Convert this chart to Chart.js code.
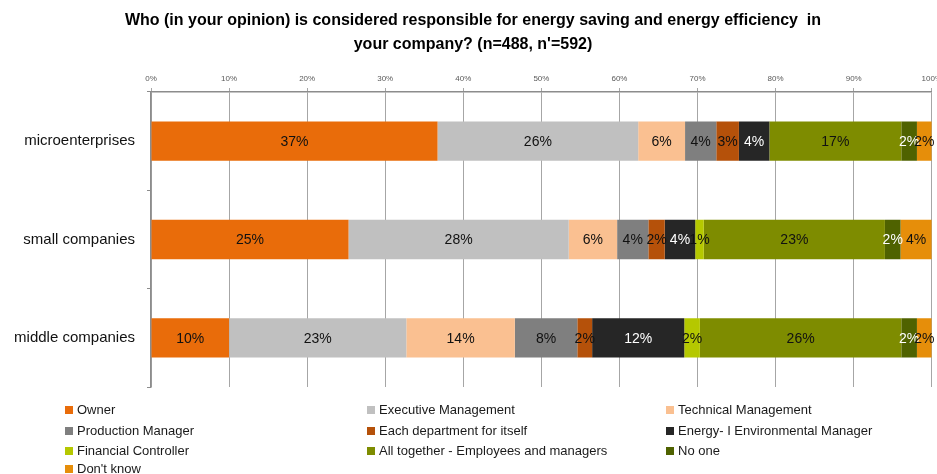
<!DOCTYPE html>
<html>
<head>
<meta charset="utf-8">
<script src="https://cdn.jsdelivr.net/npm/chart.js@4"></script>
<style>
  html, body { margin: 0; padding: 0; background: #fff; overflow: hidden; }
  #wrap { position: relative; width: 937px; height: 474px; overflow: hidden; }
  #chart { position: absolute; left: 0; top: 0; }
  #legend { position: absolute; left: 0; top: 400px; width: 937px; font-family: "Liberation Sans", sans-serif; font-size: 13px; color: #1a1a1a; }
  .item { position: absolute; white-space: nowrap; line-height: 16px; }
  .box { display: inline-block; width: 8px; height: 8px; margin-right: 4px; vertical-align: 0px; }
</style>
</head>
<body>
<div id="wrap">
  <canvas id="chart" width="946" height="474"></canvas>
  <div id="legend"></div>
</div>
<script>
const categories = ["microenterprises", "small companies", "middle companies"];
const xTicks = ["0%", "10%", "20%", "30%", "40%", "50%", "60%", "70%", "80%", "90%", "100%"];

const owner = [36.7, 25.3, 10.0];
const executive = [25.7, 28.2, 22.7];
const technical = [6.0, 6.2, 13.9];
const production = [4.0, 4.0, 8.0];
const eachDept = [2.9, 2.1, 1.9];
const energyManager = [3.9, 3.9, 11.8];
const financial = [0, 1.1, 2.0];
const allTogether = [16.9, 23.2, 25.8];
const noOne = [2.0, 2.0, 2.0];
const dontKnow = [1.9, 4.0, 1.9];

const series = [
  { label: "Owner", data: owner, color: "#E96C0A", text: "#111" },
  { label: "Executive Management", data: executive, color: "#C0C0C0", text: "#111" },
  { label: "Technical Management", data: technical, color: "#FAC091", text: "#111" },
  { label: "Production Manager", data: production, color: "#7F7F7F", text: "#111" },
  { label: "Each department for itself", data: eachDept, color: "#B5510A", text: "#111" },
  { label: "Energy- I Environmental Manager", data: energyManager, color: "#262626", text: "#fff" },
  { label: "Financial Controller", data: financial, color: "#B5C800", text: "#111" },
  { label: "All together - Employees and managers", data: allTogether, color: "#7E8C00", text: "#111" },
  { label: "No one", data: noOne, color: "#4F6200", text: "#fff" },
  { label: "Don't know", data: dontKnow, color: "#E68E0A", text: "#111" }
];

// percentage labels in the middle of each segment
const segmentLabels = {
  id: "segmentLabels",
  afterDatasetsDraw(chart) {
    const ctx = chart.ctx;
    ctx.save();
    ctx.font = "14px 'Liberation Sans', sans-serif";
    ctx.textAlign = "center";
    ctx.textBaseline = "middle";
    chart.data.datasets.forEach((ds, i) => {
      chart.getDatasetMeta(i).data.forEach((bar, j) => {
        const v = ds.data[j];
        if (!v) return;
        ctx.fillStyle = series[i].text;
        ctx.fillText(Math.round(v) + "%", (bar.x + bar.base) / 2, bar.y + 1);
      });
    });
    ctx.restore();
  }
};

new Chart(document.getElementById("chart"), {
  type: "bar",
  data: {
    labels: categories,
    datasets: series.map(s => ({
      label: s.label,
      data: s.data,
      backgroundColor: s.color,
      borderWidth: 0,
      categoryPercentage: 1,
      barPercentage: 0.4
    }))
  },
  options: {
    indexAxis: "y",
    responsive: false,
    animation: false,
    layout: { padding: { bottom: 87 } },
    plugins: {
      legend: { display: false },
      tooltip: { enabled: false },
      title: {
        display: true,
        text: ["Who (in your opinion) is considered responsible for energy saving and energy efficiency  in", "your company? (n=488, n'=592)"],
        color: "#000",
        font: { family: "'Liberation Sans', sans-serif", size: 16, weight: "bold", lineHeight: "24px" },
        padding: { top: 9, bottom: 0 }
      }
    },
    scales: {
      x: {
        position: "top",
        stacked: true,
        min: 0,
        max: 100,
        afterFit: s => { s.height = 35; },
        ticks: {
          stepSize: 10,
          padding: 4,
          color: "#595959",
          font: { family: "'Liberation Sans', sans-serif", size: 8 },
          callback: (v, i) => xTicks[i]
        },
        grid: { color: "#a6a6a6", lineWidth: 1, tickLength: 4 },
        border: { color: "#8c8c8c", width: 1.5 }
      },
      y: {
        stacked: true,
        afterFit: s => { s.width = 151; },
        ticks: {
          padding: 12,
          color: "#111",
          font: { family: "'Liberation Sans', sans-serif", size: 15 }
        },
        grid: { drawOnChartArea: false, color: "#8c8c8c", tickLength: 4 },
        border: { color: "#8c8c8c", width: 1.5 }
      }
    }
  },
  plugins: [segmentLabels]
});

// legend in three columns like the original
const colX = [65, 367, 666];
const rowY = [2, 23, 43, 61];
const legend = document.getElementById("legend");
series.forEach((s, i) => {
  const el = document.createElement("div");
  el.className = "item";
  el.style.left = colX[i % 3] + "px";
  el.style.top = rowY[Math.floor(i / 3)] + "px";
  el.innerHTML = '<span class="box" style="background:' + s.color + '"></span>' + s.label;
  legend.appendChild(el);
});
</script>
</body>
</html>
